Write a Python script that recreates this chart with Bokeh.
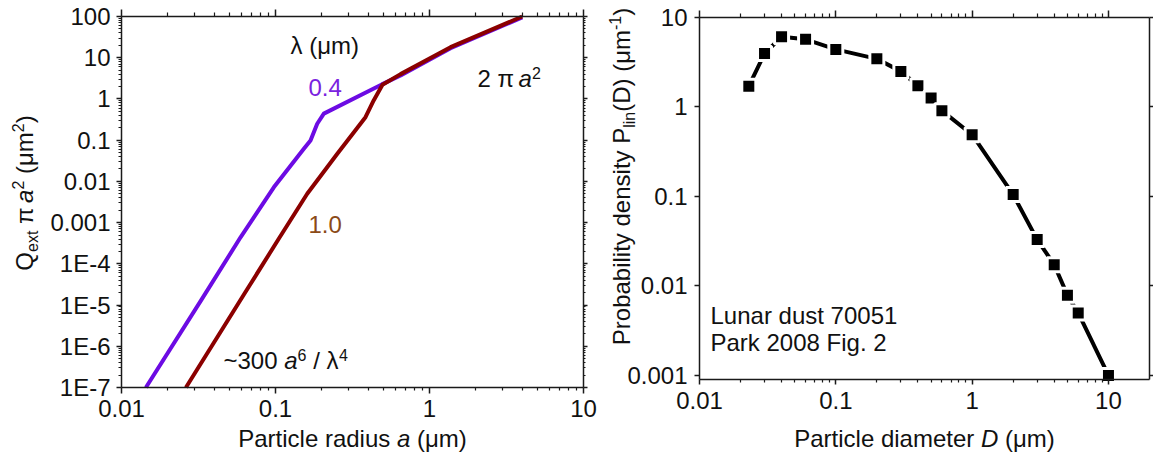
import math
from bokeh.plotting import figure
from bokeh.layouts import row
from bokeh.models import (LogAxis, FixedTicker, CustomJSTickFormatter, Range1d, Label, Grid)
from bokeh.embed import file_html
from bokeh.resources import INLINE

# ---------------- data ----------------
# left panel: extinction cross section vs particle radius (um)
radius_04 = [0.0144, 0.0327, 0.0593, 0.0975, 0.1528, 0.1688, 0.1866, 0.206, 0.49, 0.649, 1.37, 4.0]
qext_04 = [1e-7, 1.26e-5, 4.4e-4, 7.2e-3, 0.062, 0.098, 0.25, 0.44, 2.25, 3.7, 17.0, 95.0]
radius_10 = [0.0262, 0.0625, 0.105, 0.1607, 0.252, 0.384, 0.434, 0.495, 0.649, 1.37, 4.0]
qext_10 = [1e-7, 1.83e-5, 4.05e-4, 5.0e-3, 0.0467, 0.36, 0.92, 2.2, 4.0, 18.0, 100.0]
wavelengths = ["0.4", "1.0"]

# right panel: lunar dust size distribution
diameter = [0.023, 0.03, 0.04, 0.06, 0.1, 0.2, 0.3, 0.4, 0.5, 0.6, 1, 2, 3, 4, 5, 6, 10]
density = [1.71, 3.95, 6.1, 5.7, 4.4, 3.45, 2.5, 1.73, 1.26, 0.91, 0.49, 0.105,
           0.033, 0.0173, 0.0079, 0.005, 0.001]

FONT = "Liberation Sans"
TXT = "#111111"
PURPLE = "#6C0BE3"
PURPLE_LBL = "#7A22E0"
RED = "#8B0000"
BROWN = "#8B4A17"

W = {' ': 0.278, '(': 0.333, ')': 0.333, '.': 0.278, '/': 0.278, '~': 0.584, '-': 0.333,
     'P': 0.667, 'Q': 0.778, 'D': 0.722, 'L': 0.556, 'F': 0.611, 'E': 0.667,
     'a': 0.556, 'b': 0.556, 'c': 0.5, 'd': 0.556, 'e': 0.556, 'g': 0.556, 'i': 0.222,
     'k': 0.5, 'l': 0.222, 'm': 0.833, 'n': 0.556, 'o': 0.556, 'p': 0.556, 'r': 0.333,
     's': 0.5, 't': 0.278, 'u': 0.556, 'x': 0.5, 'y': 0.5,
     'λ': 0.52, 'μ': 0.576, 'π': 0.6}


def tw(t, s):
    return sum(W.get(c, 0.556) for c in t) * s


def rich(p, segs, x0, y0, conv, angle=0.0, align="left", color=TXT):
    widths = [tw(t, s) for t, s, st, sh in segs]
    total = sum(widths)
    adv = 0.0 if align == "left" else -total / 2
    for (t, s, st, sh), w in zip(segs, widths):
        lead = len(t) - len(t.lstrip(' '))
        off = adv + lead * W[' '] * s
        txt = t.strip(' ')
        corr = s / 3.0  # rendered baseline sits about 1/3 em below the anchor
        if txt:
            if angle == 0:
                px, py = x0 + off, y0 - sh - corr
            else:
                px, py = x0 - sh - corr, y0 - off
            X, Y = conv(px, py)
            p.add_layout(Label(x=X, y=Y, text=txt, text_font=FONT, text_font_size=f"{s}px",
                               text_font_style=st, text_color=color, text_align="left",
                               text_baseline="alphabetic", angle=angle))
        adv += w


LOG_FMT = """
const e = Math.round(Math.log10(tick));
if (e >= 0) return String(Math.pow(10, e));
if (e >= -3) return Math.pow(10, e).toFixed(-e);
return "1E" + e;
"""


def add_axis(p, side, ticker, loc, bounds, major_out, minor_out, labels, standoff=6):
    ax = LogAxis(ticker=ticker, fixed_location=loc, bounds=bounds)
    ax.axis_line_width = 1.5
    ax.axis_line_color = "#1a1a1a"
    ax.major_tick_line_width = 1.5
    ax.major_tick_line_color = "#1a1a1a"
    ax.minor_tick_line_width = 1.2
    ax.minor_tick_line_color = "#1a1a1a"
    ax.major_tick_in = 0
    ax.major_tick_out = major_out
    ax.minor_tick_in = 0
    ax.minor_tick_out = minor_out
    ax.major_label_text_font = FONT
    ax.major_label_text_color = TXT
    ax.major_label_standoff = standoff
    if labels:
        ax.major_label_text_font_size = "24px"
        ax.formatter = CustomJSTickFormatter(code=LOG_FMT)
    else:
        ax.major_label_text_font_size = "0px"
        ax.major_label_standoff = 0
        ax.formatter = CustomJSTickFormatter(code="return '';")
    p.add_layout(ax, side)


def decades(lo, hi):
    return [10.0 ** k for k in range(lo, hi + 1)]


def minors(lo, hi):
    return [m * 10.0 ** k for k in range(lo, hi + 1) for m in range(2, 10)]


CT, CB = 0, 452  # picture y of canvas top / bottom


def panel(CL, CR, box, lims):
    """Figure whose frame is the whole canvas; box = picture pixels of the plot box,
    lims = data limits (xlo, xhi, ylo, yhi) of that box."""
    BL, BR, BT, BB = box
    XL, XR, YB, YT = [math.log10(v) for v in lims]
    sx = (BR - BL) / (XR - XL)
    sy = (BB - BT) / (YT - YB)
    xr = Range1d(10 ** (XL - (BL - CL) / sx), 10 ** (XR + (CR - BR) / sx))
    yr = Range1d(10 ** (YB - (CB - BB) / sy), 10 ** (YT + (BT - CT) / sy))
    p = figure(x_axis_type="log", y_axis_type="log", x_axis_location=None,
               y_axis_location=None, x_range=xr, y_range=yr,
               frame_width=CR - CL, frame_height=CB - CT, min_border=0,
               output_backend="svg", toolbar_location=None)
    p.outline_line_color = None
    p.background_fill_color = "white"
    p.border_fill_color = "white"
    for r in p.center:
        if isinstance(r, Grid):
            r.visible = False

    def conv(px, py):
        return 10 ** (XL + (px - BL) / sx), 10 ** (YT - (py - BT) / sy)
    return p, conv


# ---------------- left panel ----------------
lim1 = (0.01, 10.0, 1e-7, 100.0)
p1, conv1 = panel(0, 600, (121, 583, 16, 387), lim1)
xt1 = FixedTicker(ticks=decades(-2, 1), minor_ticks=minors(-2, 0))
yt1 = FixedTicker(ticks=decades(-7, 2), minor_ticks=minors(-7, 1))
add_axis(p1, "below", xt1, lim1[2], (lim1[0], lim1[1]), 6, 3, True, 6)
add_axis(p1, "left", yt1, lim1[0], (lim1[2], lim1[3]), 5, 3, True, 6)
add_axis(p1, "above", xt1, lim1[3], (lim1[0], lim1[1]), 7, 4, False)
add_axis(p1, "right", yt1, lim1[1], (lim1[2], lim1[3]), 4, 2, False)

p1.line(radius_04, qext_04, line_width=4, line_color=PURPLE, line_join="round")
p1.line(radius_10, qext_10, line_width=4, line_color=RED, line_join="round")

rich(p1, [("Q", 24, "normal", 0), ("ext", 16, "normal", -5), (" π ", 24, "normal", 0),
          ("a", 24, "italic", 0), ("2", 16, "normal", 9), (" (μm", 24, "normal", 0),
          ("2", 16, "normal", 9), (")", 24, "normal", 0)],
     32, 192.5, conv1, angle=math.pi / 2, align="center")
rich(p1, [("Particle radius ", 24, "normal", 0), ("a", 24, "italic", 0),
          (" (μm)", 24, "normal", 0)], 352, 446, conv1, align="center")
rich(p1, [("λ (μm)", 24, "normal", 0)], 290, 53, conv1)
rich(p1, [(wavelengths[0], 24, "normal", 0)], 308, 95, conv1, color=PURPLE_LBL)
rich(p1, [(wavelengths[1], 24, "normal", 0)], 308, 231.5, conv1, color=BROWN)
rich(p1, [("2 π ", 24, "normal", 0), ("a", 24, "italic", 0), ("2", 16, "normal", 8)],
     477, 86, conv1)
rich(p1, [("~300 ", 24, "normal", 0), ("a", 24, "italic", 0), ("6", 16, "normal", 8),
          (" / λ", 24, "normal", 0), ("4", 16, "normal", 8)], 223, 368, conv1)

# ---------------- right panel ----------------
lim2 = (0.01, 20.0, 0.000902, 10.0)
p2, conv2 = panel(600, 1153, (699, 1149, 17, 379), lim2)
xt2 = FixedTicker(ticks=decades(-2, 1), minor_ticks=minors(-2, 0))
yt2 = FixedTicker(ticks=decades(-3, 1), minor_ticks=[])
add_axis(p2, "below", xt2, lim2[2], (lim2[0], lim2[1]), 5, 3, True, 7)
add_axis(p2, "left", yt2, lim2[0], (lim2[2], lim2[3]), 5, 0, True, 7)
add_axis(p2, "above", xt2, lim2[3], (lim2[0], lim2[1]), 7, 4, False)
add_axis(p2, "right", yt2, lim2[1], (lim2[2], lim2[3]), 4, 0, False)

p2.line(diameter, density, line_width=4, line_color="black")
p2.scatter(diameter, density, marker="square", size=14, fill_color="black",
           line_color="white", line_width=3)

rich(p2, [("Probability density P", 24, "normal", 0), ("lin", 16, "normal", -5),
          ("(D) (μm", 24, "normal", 0), ("-1", 16, "normal", 9), (")", 24, "normal", 0)],
     629, 176, conv2, angle=math.pi / 2, align="center")
rich(p2, [("Particle diameter ", 24, "normal", 0), ("D", 24, "italic", 0),
          (" (μm)", 24, "normal", 0)], 924, 446, conv2, align="center")
rich(p2, [("Lunar dust 70051", 24, "normal", 0)], 710, 323, conv2)
rich(p2, [("Park 2008 Fig. 2", 24, "normal", 0)], 710, 350, conv2)

layout = row(p1, p2)
open("out.html", "w").write(file_html(layout, INLINE))
